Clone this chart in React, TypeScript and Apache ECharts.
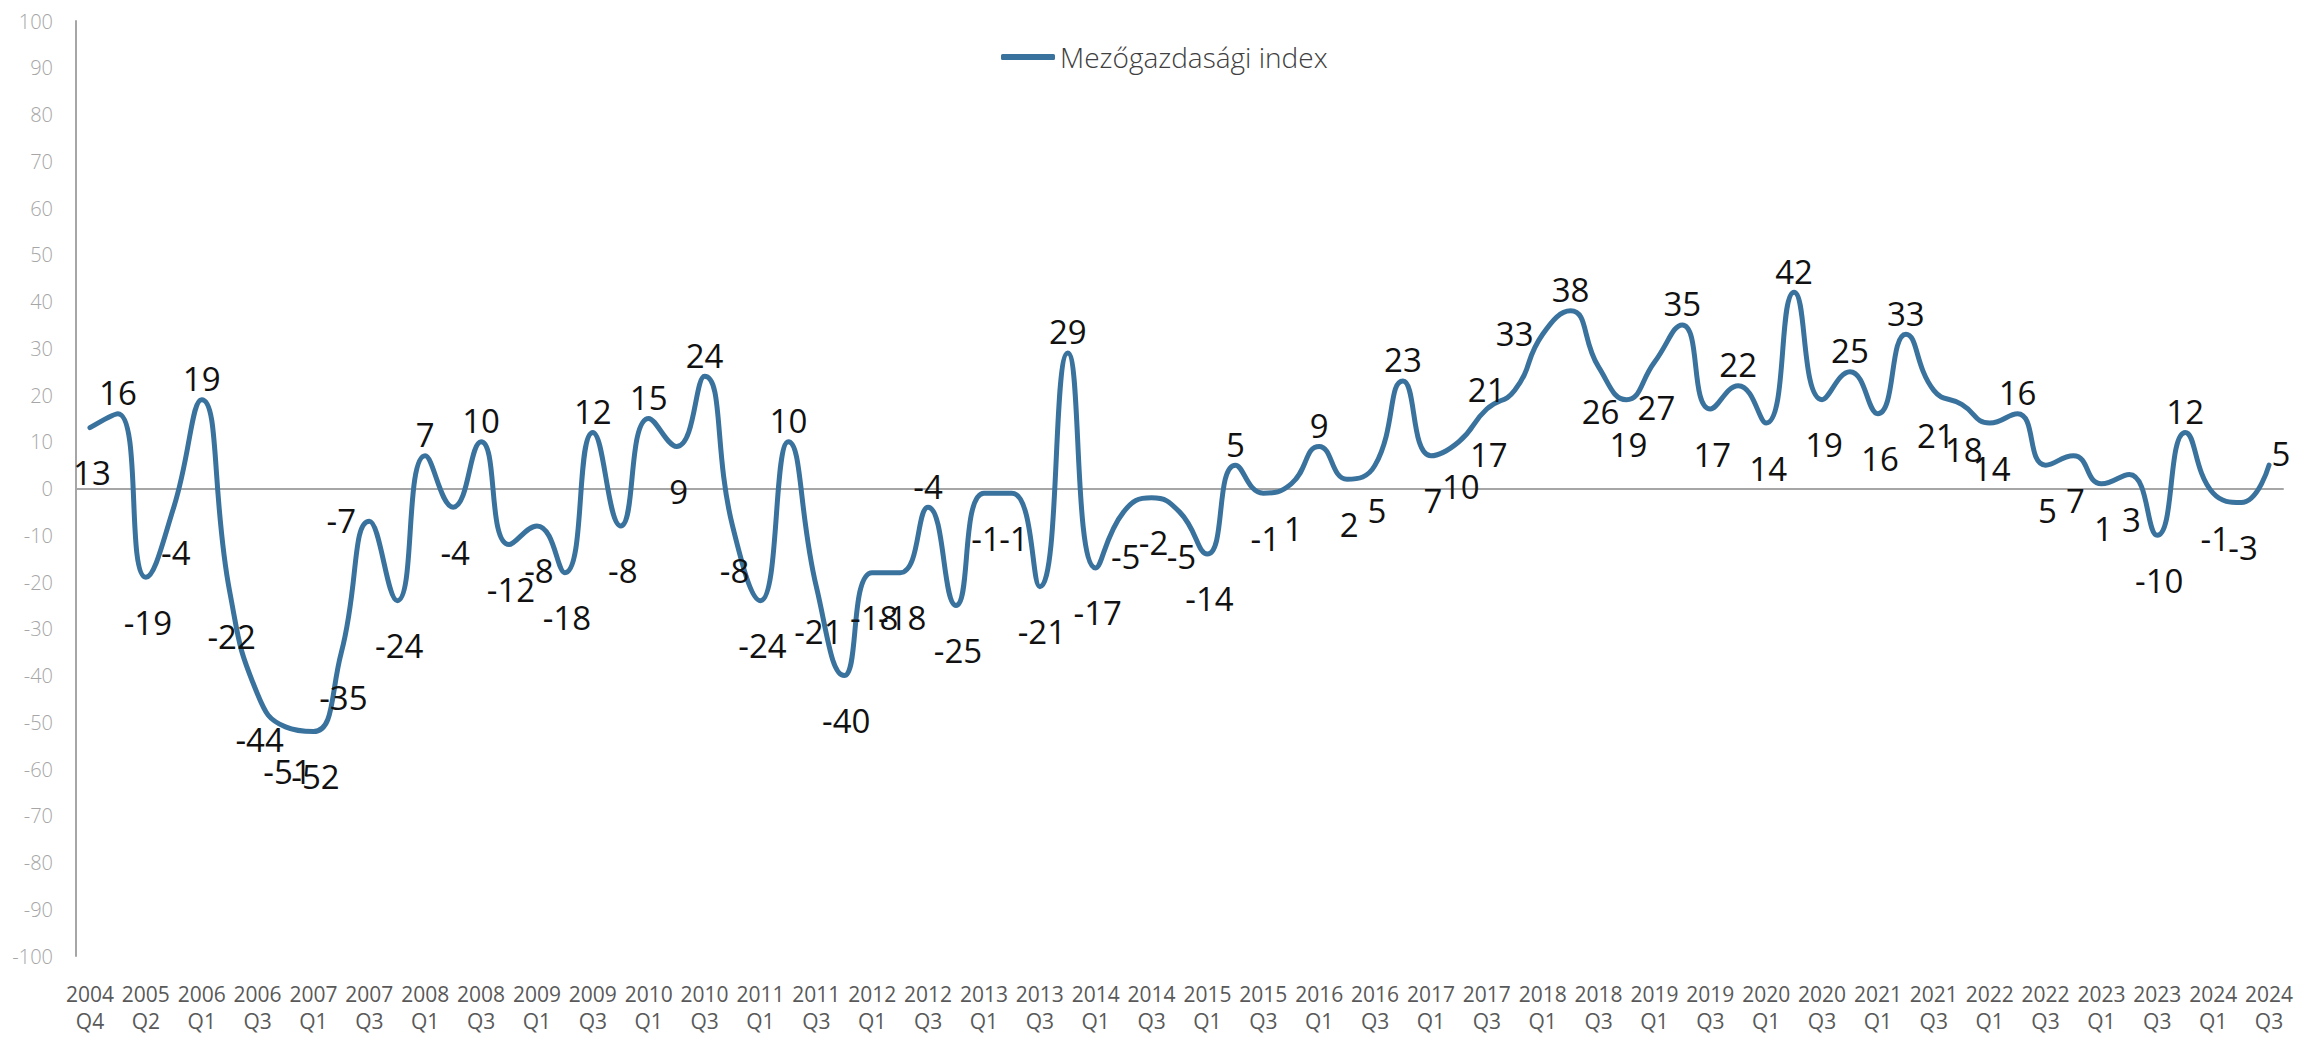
import { useEffect, useRef } from "react";
import * as echarts from "echarts";

const categories = [
  "2004 Q4",
  "2005 Q1", "2005 Q2", "2005 Q3",
  "2006 Q1", "2006 Q2", "2006 Q3", "2006 Q4",
  "2007 Q1", "2007 Q2", "2007 Q3", "2007 Q4",
  "2008 Q1", "2008 Q2", "2008 Q3", "2008 Q4",
  "2009 Q1", "2009 Q2", "2009 Q3", "2009 Q4",
  "2010 Q1", "2010 Q2", "2010 Q3", "2010 Q4",
  "2011 Q1", "2011 Q2", "2011 Q3", "2011 Q4",
  "2012 Q1", "2012 Q2", "2012 Q3", "2012 Q4",
  "2013 Q1", "2013 Q2", "2013 Q3", "2013 Q4",
  "2014 Q1", "2014 Q2", "2014 Q3", "2014 Q4",
  "2015 Q1", "2015 Q2", "2015 Q3", "2015 Q4",
  "2016 Q1", "2016 Q2", "2016 Q3", "2016 Q4",
  "2017 Q1", "2017 Q2", "2017 Q3", "2017 Q4",
  "2018 Q1", "2018 Q2", "2018 Q3", "2018 Q4",
  "2019 Q1", "2019 Q2", "2019 Q3", "2019 Q4",
  "2020 Q1", "2020 Q2", "2020 Q3", "2020 Q4",
  "2021 Q1", "2021 Q2", "2021 Q3", "2021 Q4",
  "2022 Q1", "2022 Q2", "2022 Q3", "2022 Q4",
  "2023 Q1", "2023 Q2", "2023 Q3", "2023 Q4",
  "2024 Q1", "2024 Q2", "2024 Q3",
];

const indexValues = [
  13, 16, -19, -4,
  19, -22, -44, -51,
  -52, -35, -7, -24,
  7, -4, 10, -12,
  -8, -18, 12, -8,
  15, 9, 24, -8,
  -24, 10, -21, -40,
  -18, -18, -4, -25,
  -1, -1, -21, 29,
  -17, -5, -2, -5,
  -14, 5, -1, 1,
  9, 2, 5, 23,
  7, 10, 17, 21,
  33, 38, 26, 19,
  27, 35, 17, 22,
  14, 42, 19, 25,
  16, 33, 21, 18,
  14, 16, 5, 7,
  1, 3, -10, 12,
  -1, -3, 5,
];

const seriesName = "Mezőgazdasági index";

const yMin = -100;
const yMax = 100;
const yStep = 10;

// label placement per point: b = below, a = above, l = left, r = right
const labelSpots = [
  "b", "a", "b", "b", "a", "b", "b", "b", "b", "b",
  "l", "b", "a", "b", "a", "b", "b", "b", "a", "b",
  "a", "b", "a", "b", "b", "a", "b", "b", "b", "b",
  "a", "b", "b", "b", "b", "a", "b", "b", "b", "b",
  "b", "a", "b", "b", "a", "b", "b", "a", "b", "b",
  "b", "l", "l", "a", "b", "b", "b", "a", "b", "a",
  "b", "a", "b", "a", "b", "a", "b", "b", "b", "a",
  "b", "b", "b", "b", "b", "a", "b", "b", "r",
];

const spotOffsets: Record<string, [number, number]> = {
  b: [2, 45],
  a: [0, -21],
  l: [-28, -1],
  r: [12, -12],
};

const FONT = "'Segoe UI', 'Open Sans', sans-serif";
const LINE_COLOR = "#3A729E";

export default function App() {
  const ref = useRef<HTMLDivElement>(null);

  useEffect(() => {
    document.body.style.margin = "0";
    if (!ref.current) return;
    const chart = echarts.init(ref.current, undefined, { renderer: "svg" });

    chart.setOption({
      animation: false,
      backgroundColor: "#ffffff",
      textStyle: { fontFamily: FONT },
      grid: { left: 76, right: 20, top: 21, bottom: 82, containLabel: false },
      legend: {
        data: [seriesName],
        left: 996,
        top: 38,
        icon: "roundRect",
        itemWidth: 54,
        itemHeight: 6,
        textStyle: { fontSize: 28, color: "#404040", fontFamily: FONT, fontWeight: 300 },
      },
      xAxis: [
        {
          type: "category",
          data: categories,
          boundaryGap: true,
          position: "bottom",
          axisLine: { show: false, onZero: false },
          axisTick: { show: false },
          axisLabel: {
            interval: 1,
            margin: 24,
            fontSize: 21,
            lineHeight: 27,
            color: "#595959",
            fontFamily: FONT,
            formatter: (v: string) => v.replace(" ", "\n"),
          },
          splitLine: { show: false },
        },
        {
          type: "category",
          data: categories,
          boundaryGap: true,
          position: "bottom",
          axisLine: { show: true, onZero: true, lineStyle: { color: "#A6A6A6", width: 2 } },
          axisTick: { show: false },
          axisLabel: { show: false },
          splitLine: { show: false },
        },
      ],
      yAxis: {
        type: "value",
        min: yMin,
        max: yMax,
        interval: yStep,
        axisLine: { show: true, lineStyle: { color: "#A6A6A6", width: 2 } },
        axisTick: { show: false },
        splitLine: { show: false },
        axisLabel: {
          margin: 23,
          fontSize: 20,
          color: "#A6A6A6",
          fontFamily: FONT,
          fontWeight: 300,
        },
      },
      series: [
        {
          name: seriesName,
          type: "line",
          xAxisIndex: 0,
          data: indexValues,
          smooth: 0.5,
          symbol: "circle",
          symbolSize: 1,
          showSymbol: true,
          itemStyle: { color: LINE_COLOR },
          lineStyle: { color: LINE_COLOR, width: 5, cap: "round", join: "round" },
          label: {
            show: true,
            position: "inside",
            fontSize: 33,
            color: "#111111",
            fontFamily: FONT,
          },
          labelLayout: (params: any) => {
            const o = spotOffsets[labelSpots[params.dataIndex]] || spotOffsets.b;
            return { dx: o[0], dy: o[1], hideOverlap: false };
          },
          z: 3,
        },
      ],
    });

    return () => chart.dispose();
  }, []);

  return <div ref={ref} style={{ width: 2303, height: 1038 }} />;
}
